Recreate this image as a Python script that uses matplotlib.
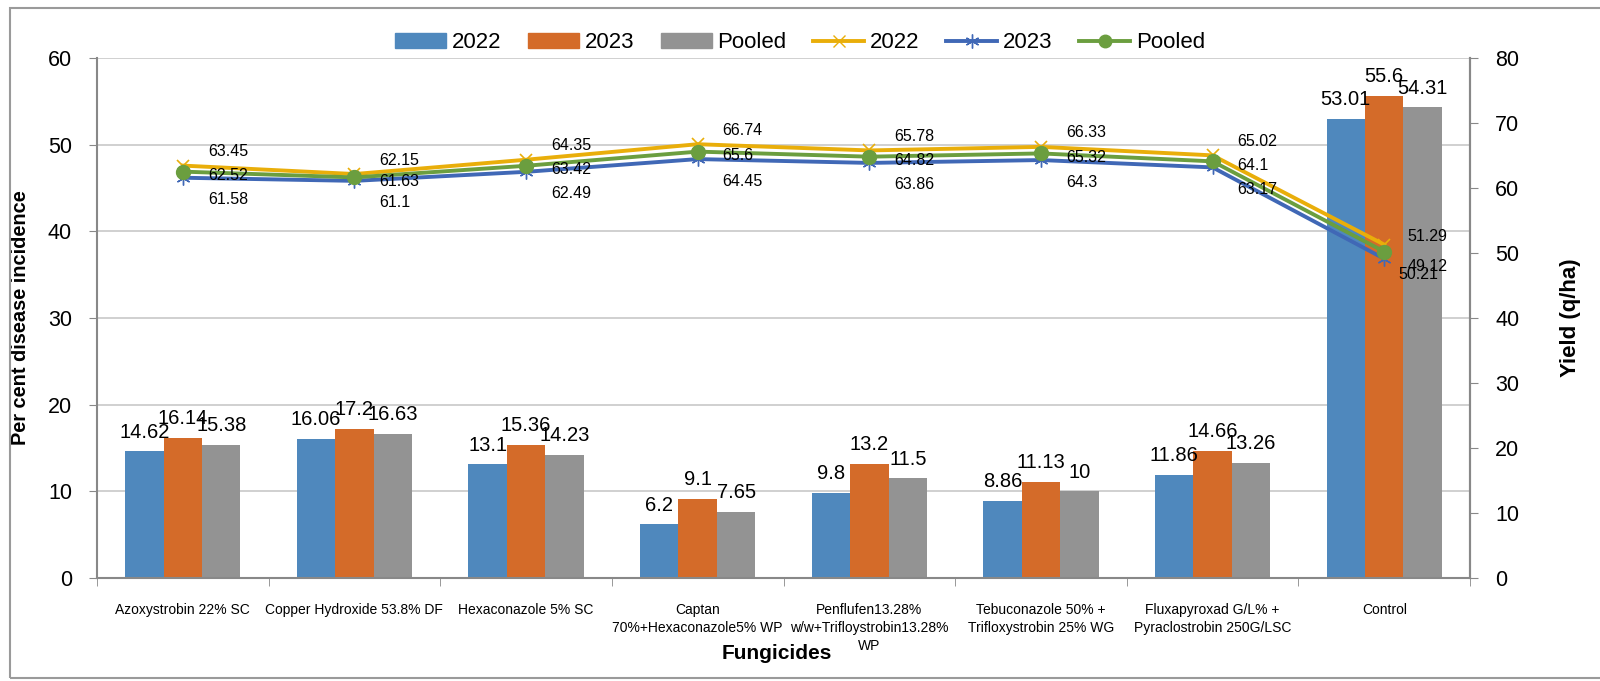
import numpy as np
import matplotlib.pyplot as plt
from matplotlib.patches import Patch, Rectangle
from matplotlib.lines import Line2D

plt.rcParams['font.family'] = ['Liberation Sans', 'DejaVu Sans']

categories = ['Azoxystrobin 22% SC',
              'Copper Hydroxide 53.8% DF',
              'Hexaconazole 5% SC',
              'Captan\n70%+Hexaconazole5% WP',
              'Penflufen13.28%\nw/w+Trifloystrobin13.28%\nWP',
              'Tebuconazole 50% +\nTrifloxystrobin 25% WG',
              'Fluxapyroxad G/L% +\nPyraclostrobin 250G/LSC',
              'Control']

pdi_2022 = [14.62, 16.06, 13.1, 6.2, 9.8, 8.86, 11.86, 53.01]
pdi_2023 = [16.14, 17.2, 15.36, 9.1, 13.2, 11.13, 14.66, 55.6]
pdi_pooled = [15.38, 16.63, 14.23, 7.65, 11.5, 10, 13.26, 54.31]

yield_2022 = [63.45, 62.15, 64.35, 66.74, 65.78, 66.33, 65.02, 51.29]
yield_2023 = [61.58, 61.1, 62.49, 64.45, 63.86, 64.3, 63.17, 49.12]
yield_pooled = [62.52, 61.63, 63.42, 65.6, 64.82, 65.32, 64.1, 50.21]

c_blue = '#4f88bd'
c_orange = '#d46b29'
c_gray = '#939393'
c_yellow = '#e9ae0a'
c_lblue = '#4068b6'
c_green = '#6b9e3f'

fig = plt.figure(figsize=(16, 6.81), dpi=100)
ax = fig.add_axes([0.0606, 0.1513, 0.8582, 0.7635])
ax2 = ax.twinx()

x = np.arange(len(categories))
w = 0.224

b1 = ax.bar(x - w, pdi_2022, w, color=c_blue, zorder=2)
b2 = ax.bar(x, pdi_2023, w, color=c_orange, zorder=2)
b3 = ax.bar(x + w, pdi_pooled, w, color=c_gray, zorder=2)

for bars, vals in [(b1, pdi_2022), (b2, pdi_2023), (b3, pdi_pooled)]:
    for b, v in zip(bars, vals):
        ax.annotate(f'{v:g}', (b.get_x() + b.get_width() / 2, v),
                    xytext=(0, 7), textcoords='offset points',
                    ha='center', va='bottom', fontsize=14.5)

ax.set_xlim(-0.5, len(categories) - 0.5)
ax.set_ylim(0, 60)
ax.set_yticks(range(0, 61, 10))
ax.set_xticks(x)
ax.set_xticklabels(categories, fontsize=10, linespacing=1.35)
ax.set_xticks(np.arange(-0.5, len(categories), 1), minor=True)
ax.tick_params(axis='x', which='major', length=0, pad=18)
ax.tick_params(axis='x', which='minor', length=6, color='#888888')
ax.tick_params(axis='y', labelsize=15.5, length=6, color='#888888', pad=12)
ax.grid(axis='y', color='#c8c8c8', linewidth=1.2, zorder=0)
ax.set_axisbelow(True)
ax.spines['top'].set_visible(False)
ax2.spines['top'].set_visible(False)
for s in ['left', 'bottom', 'right']:
    ax.spines[s].set_color('#888888')
    ax.spines[s].set_linewidth(1.5)
ax2.spines['right'].set_color('#888888')
ax2.spines['right'].set_linewidth(1.5)
ax2.spines['left'].set_visible(False)
ax2.spines['bottom'].set_visible(False)

ax.set_ylabel('Per cent disease incidence', fontsize=14.4, fontweight='bold')
ax.yaxis.set_label_coords(-0.049, 0.5)
ax.set_xlabel('Fungicides', fontsize=15, fontweight='bold')
ax.xaxis.set_label_coords(0.495, -0.127)

star = (6, 2, 0)
l1, = ax2.plot(x, yield_2022, color=c_yellow, lw=2.8, marker='x', ms=9, mew=1.2, zorder=3)
l2, = ax2.plot(x, yield_2023, color=c_lblue, lw=2.8, marker=star, ms=10, mew=1.0, zorder=3)
l3, = ax2.plot(x, yield_pooled, color=c_green, lw=2.8, marker='o', ms=10, zorder=4)

offsets = [(yield_2022, (25, -14), (23, -8)),
           (yield_pooled, (25, 4), (14, 23)),
           (yield_2023, (25, 22), (23, 8))]
for vals, off, off_last in offsets:
    for i, v in enumerate(vals):
        o = off_last if i == len(vals) - 1 else off
        ax2.annotate(f'{v:g}', (x[i], v), xytext=(o[0], -o[1]),
                     textcoords='offset pixels', ha='left', va='center',
                     fontsize=11.5, zorder=5)

ax2.set_ylim(0, 80)
ax2.set_yticks(range(0, 81, 10))
ax2.tick_params(axis='y', labelsize=15.5, length=6, color='#888888', pad=12)
ax2.set_ylabel('Yield (q/ha)', fontsize=16, fontweight='bold', rotation=90)
ax2.yaxis.set_label_coords(1.0655, 0.5)

handles = [Patch(color=c_blue), Patch(color=c_orange), Patch(color=c_gray),
           Line2D([], [], color=c_yellow, lw=2.8, marker='x', ms=9),
           Line2D([], [], color=c_lblue, lw=2.8, marker=star, ms=10),
           Line2D([], [], color=c_green, lw=2.8, marker='o', ms=9)]
labels = ['2022', '2023', 'Pooled', '2022', '2023', 'Pooled']
fig.legend(handles, labels, loc='center', bbox_to_anchor=(0.5, 0.937), ncol=6,
           frameon=False, fontsize=16, handlelength=2.3, handletextpad=0.25,
           columnspacing=1.2)

fig.patches.append(Rectangle((0.006, 0.004), 1.0, 0.984, transform=fig.transFigure,
                             fill=False, edgecolor='#9a9a9a', linewidth=1.5))

fig.savefig('out.png', dpi=100)
